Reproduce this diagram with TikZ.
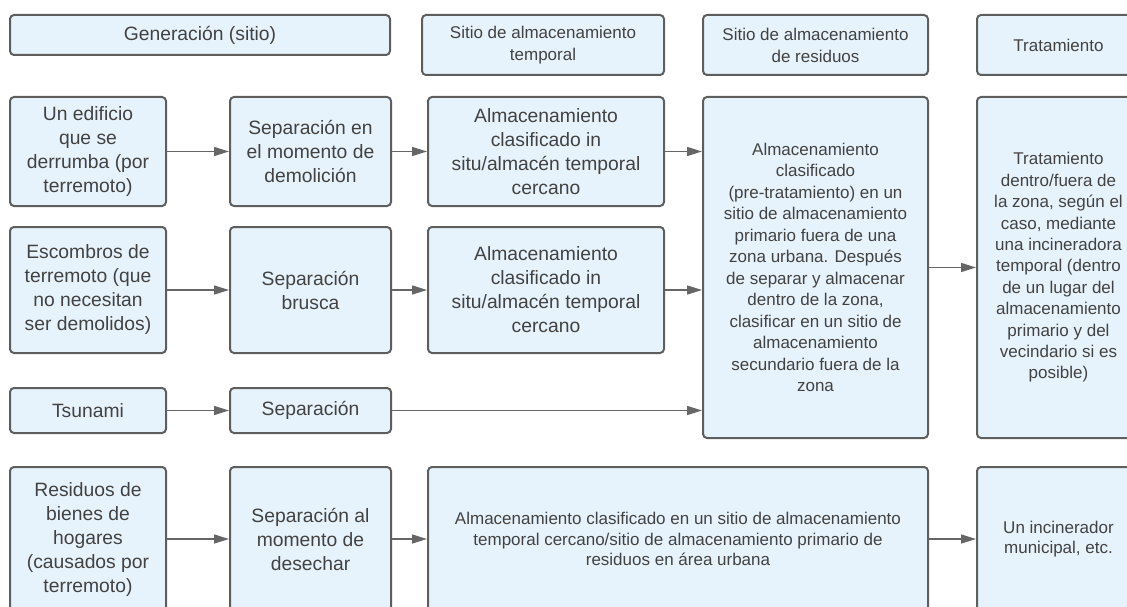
\documentclass[tikz,border=0pt]{standalone}
\usepackage{fontspec}
\setmainfont{Liberation Sans}
\usetikzlibrary{arrows.meta}
\definecolor{boxfill}{HTML}{E7F3FC}
\definecolor{boxline}{HTML}{5E5E5E}
\definecolor{txt}{HTML}{424242}
\definecolor{arr}{HTML}{666666}
\begin{document}
\begin{tikzpicture}[x=1pt,y=-1pt,
  box/.style={draw=boxline, fill=boxfill, line width=2pt, rounded corners=4pt,
    align=center, text=txt, inner sep=0pt},
  fA/.style={font=\fontsize{19.3}{24}\selectfont},
  fH/.style={font=\fontsize{17}{22}\selectfont},
  fD/.style={font=\fontsize{17}{21.5}\selectfont},
  fT/.style={font=\fontsize{17}{21.4}\selectfont},
  fB/.style={font=\fontsize{17}{20.5}\selectfont},
  conn/.style={draw=arr, line width=1.5pt, -{Triangle[length=15pt,width=9pt]}}]
\useasboundingbox (0,0) rectangle (1127,607);
% headers
\node[box, fA, minimum width=380pt, minimum height=40pt] (hGen) at (200,35) {Generación (sitio)};
\node[box, fH, minimum width=242pt, minimum height=60pt] (hTemp) at (543,45) {Sitio de almacenamiento\\temporal};
\node[box, fH, minimum width=225pt, minimum height=60pt] (hRes) at (815.5,45) {Sitio de almacenamiento\\de residuos};
\node[box, fH, minimum width=163pt, minimum height=60pt] (hTrat) at (1058.5,45) {Tratamiento};
% row 1
\node[box, fA, minimum width=156pt, minimum height=109pt] (a1) at (88,151.5) {Un edificio\\que se\\derrumba (por\\terremoto)};
\node[box, fA, minimum width=161pt, minimum height=109pt] (b1) at (310.5,151.5) {Separación en\\el momento de\\demolición};
\node[box, fA, minimum width=236pt, minimum height=109pt] (c1) at (546,151.5) {Almacenamiento\\clasificado in\\situ/almacén temporal\\cercano};
% big boxes
\node[box, fD, minimum width=225pt, minimum height=341pt] (D) at (815.5,267.5) {Almacenamiento\\clasificado\\(pre-tratamiento) en un\\sitio de almacenamiento\\primario fuera de una\\zona urbana. Después\\de separar y almacenar\\dentro de la zona,\\clasificar en un sitio de\\almacenamiento\\secundario fuera de la\\zona};
\node[box, fT, minimum width=163pt, minimum height=341pt] (T) at (1058.5,267.5) {Tratamiento\\dentro/fuera de\\la zona, según el\\caso, mediante\\una incineradora\\temporal (dentro\\de un lugar del\\almacenamiento\\primario y del\\vecindario si es\\posible)};
% row 2
\node[box, fA, minimum width=156pt, minimum height=126pt] (a2) at (88,290) {Escombros de\\terremoto (que\\no necesitan\\ser demolidos)};
\node[box, fA, minimum width=161pt, minimum height=126pt] (b2) at (310.5,290) {Separación\\brusca};
\node[box, fA, minimum width=236pt, minimum height=126pt] (c2) at (546,290) {Almacenamiento\\clasificado in\\situ/almacén temporal\\cercano};
% row 3
\node[box, fA, minimum width=156pt, minimum height=45pt] (a3) at (88,410.5) {Tsunami};
\node[box, fA, minimum width=161pt, minimum height=45pt] (b3) at (310.5,410.5) {Separación};
% row 4
\node[box, fA, minimum width=156pt, minimum height=144pt] (a4) at (88,539) {Residuos de\\bienes de\\hogares\\(causados por\\terremoto)};
\node[box, fA, minimum width=161pt, minimum height=144pt] (b4) at (310.5,539) {Separación al\\momento de\\desechar};
\node[box, fB, minimum width=500pt, minimum height=144pt] (c4) at (678,539) {Almacenamiento clasificado en un sitio de almacenamiento\\temporal cercano/sitio de almacenamiento primario de\\residuos en área urbana};
\node[box, fB, minimum width=163pt, minimum height=144pt] (d4) at (1058.5,539) {Un incinerador\\municipal, etc.};
% connectors
\draw[conn] (a1.east) -- (b1.west);
\draw[conn] (b1.east) -- (c1.west);
\draw[conn] (c1.east) -- (c1.east -| D.west);
\draw[conn] (a2.east) -- (b2.west);
\draw[conn] (b2.east) -- (c2.west);
\draw[conn] (c2.east) -- (c2.east -| D.west);
\draw[conn] (a3.east) -- (b3.west);
\draw[conn] (b3.east) -- (b3.east -| D.west);
\draw[conn] (D.east) -- (T.west);
\draw[conn] (a4.east) -- (b4.west);
\draw[conn] (b4.east) -- (c4.west);
\draw[conn] (c4.east) -- (d4.west);
\end{tikzpicture}
\end{document}
